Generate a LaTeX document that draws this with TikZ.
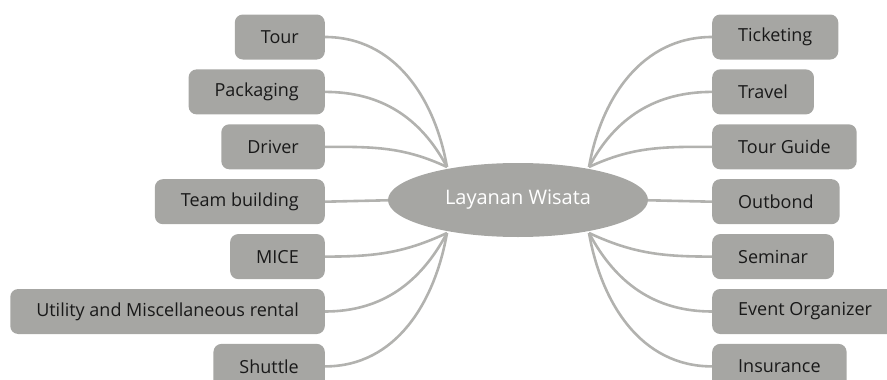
\documentclass[tikz,border=0pt]{standalone}
\usepackage{fontspec}
\setmainfont{Open Sans}
\usetikzlibrary{positioning,shapes.geometric}
\definecolor{boxgray}{RGB}{166,166,163}
\definecolor{linegray}{RGB}{178,178,175}
\definecolor{textdark}{RGB}{25,25,25}
\begin{document}
\begin{tikzpicture}
[x=1pt,y=1pt,
item/.style={rounded corners=8pt,fill=boxgray,text=textdark,minimum height=45pt,inner xsep=26pt,inner ysep=0pt,font=\fontsize{18}{21}\selectfont},
hub/.style={ellipse,fill=boxgray,text=white,minimum width=260pt,minimum height=74pt,inner sep=0pt,font=\fontsize{20}{24}\selectfont},
link/.style={draw=linegray,line width=2.6pt}]
\useasboundingbox (0,0) rectangle (887,-380);
% left side
\node[item,anchor=east] (tour) at (325,-37) {Tour};
\node[item,below=9.5pt of tour.south east,anchor=north east] (packaging) {Packaging};
\node[item,below=9.5pt of packaging.south east,anchor=north east] (driver) {Driver};
\node[item,below=9.5pt of driver.south east,anchor=north east] (team) {Team building};
\node[item,below=9.5pt of team.south east,anchor=north east] (mice) {MICE};
\node[item,below=9.5pt of mice.south east,anchor=north east] (utility) {Utility and Miscellaneous rental};
\node[item,below=9.5pt of utility.south east,anchor=north east] (shuttle) {Shuttle};
% right side
\node[item,anchor=west] (ticketing) at (712,-37) {Ticketing};
\node[item,below=9.5pt of ticketing.south west,anchor=north west] (travel) {Travel};
\node[item,below=9.5pt of travel.south west,anchor=north west] (guide) {Tour Guide};
\node[item,below=9.5pt of guide.south west,anchor=north west] (outbond) {Outbond};
\node[item,below=9.5pt of outbond.south west,anchor=north west] (seminar) {Seminar};
\node[item,below=9.5pt of seminar.south west,anchor=north west] (event) {Event Organizer};
\node[item,below=9.5pt of event.south west,anchor=north west] (insurance) {Insurance};
% meeting points under the hub
\coordinate (tl) at (447,-167);
\coordinate (bl) at (447,-233);
\coordinate (tr) at (589,-167);
\coordinate (br) at (589,-233);
\coordinate (ml) at (400,-200);
\coordinate (mr) at (636,-200);
\path
(tour.east) edge[link,out=0,in=100] (tl)
(packaging.east) edge[link,out=0,in=118] (tl)
(driver.east) edge[link,out=0,in=155] (tl)
(team.east) edge[link] (ml)
(mice.east) edge[link,out=0,in=205] (bl)
(utility.east) edge[link,out=0,in=242] (bl)
(shuttle.east) edge[link,out=0,in=260] (bl)
(ticketing.west) edge[link,out=180,in=80] (tr)
(travel.west) edge[link,out=180,in=62] (tr)
(guide.west) edge[link,out=180,in=25] (tr)
(outbond.west) edge[link] (mr)
(seminar.west) edge[link,out=180,in=-25] (br)
(event.west) edge[link,out=180,in=-62] (br)
(insurance.west) edge[link,out=180,in=-80] (br);
\node[hub] (layanan) at (518,-200) {Layanan Wisata};
\end{tikzpicture}
\end{document}
